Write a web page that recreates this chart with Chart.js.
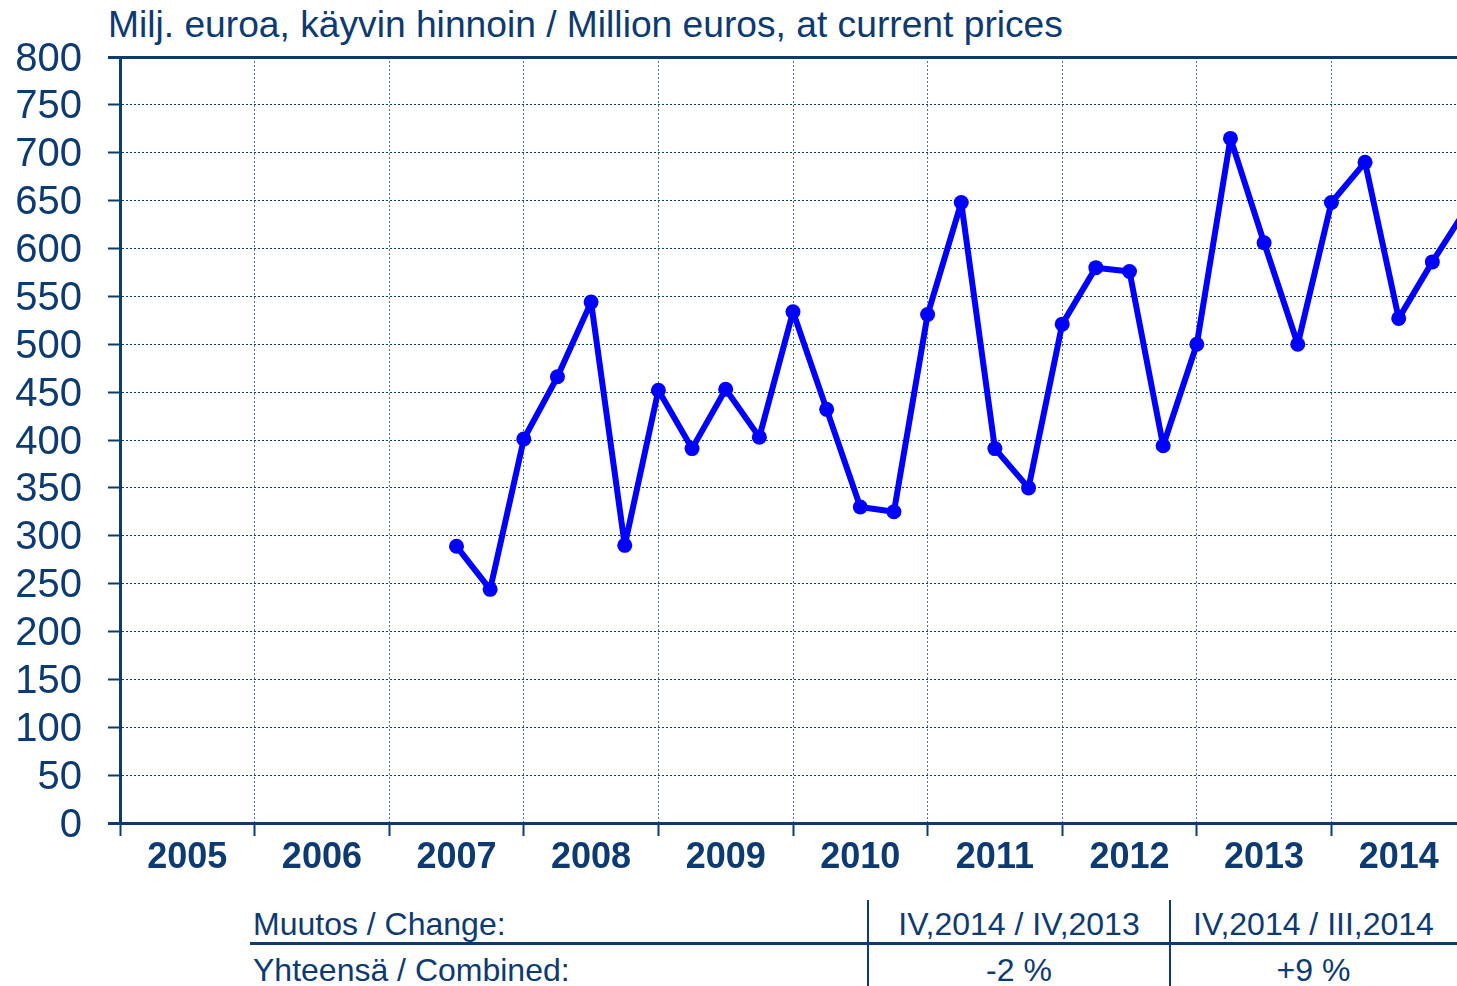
<!DOCTYPE html>
<html>
<head>
<meta charset="utf-8">
<script src="https://cdn.jsdelivr.net/npm/chart.js@4/dist/chart.umd.min.js"></script>
<style>
  html, body { margin: 0; padding: 0; background: #fff; overflow: hidden; }
  body { width: 1457px; height: 986px; position: relative; font-family: Arial, "Liberation Sans", sans-serif; color: #0d3a70; }
  #wrap { position: absolute; left: 0; top: 0; width: 1480px; height: 880px; }
  .t { position: absolute; white-space: nowrap; }
  .title { left: 108px; top: 4px; font-size: 37.2px; line-height: 40px; }
  .cell { font-size: 32px; line-height: 40px; height: 40px; }
  .c { text-align: center; }
  .hl { position: absolute; background: #0d3a70; }
</style>
</head>
<body>
<div class="t title">Milj. euroa, käyvin hinnoin / Million euros, at current prices</div>
<div id="wrap"><canvas id="chart"></canvas></div>

<div class="t cell" style="left:253px; top:904px;">Muutos / Change:</div>
<div class="t cell c" style="left:868px; width:302px; top:904px;">IV,2014 / IV,2013</div>
<div class="t cell c" style="left:1170px; width:287px; top:904px;">IV,2014 / III,2014</div>
<div class="t cell" style="left:253px; top:950px;">Yhteensä / Combined:</div>
<div class="t cell c" style="left:868px; width:302px; top:950px;">-2 %</div>
<div class="t cell c" style="left:1170px; width:287px; top:950px;">+9 %</div>
<div class="hl" style="left:250px; top:942px; width:1230px; height:3px;"></div>
<div class="hl" style="left:867px; top:900px; width:2px; height:86px;"></div>
<div class="hl" style="left:1169px; top:900px; width:2px; height:86px;"></div>

<script>
// year labels along the x axis (4 quarters each)
const years = ['2005', '2006', '2007', '2008', '2009', '2010', '2011', '2012', '2013', '2014'];
const quartersPerYear = 4;
// quarter-end index of the first value (2007 Q2)
const firstQuarter = 10;
// quarterly values, million euros
const values = [289, 244, 401, 466, 544, 290, 452, 391, 453, 403,
                534, 432, 330, 325, 531, 648, 391, 350, 521, 580,
                576, 394, 500, 715, 606, 500, 648, 690, 527, 586, 641];
const yMin = 0;
const yMax = 800;
const yStep = 50;

const navy = '#0d3a70';
const points = values.map((v, i) => ({ x: firstQuarter + i, y: v }));
const isEdge = ctx => ctx.tick && (ctx.tick.value === yMin || ctx.tick.value === yMax);

const ctx = document.getElementById('chart').getContext('2d');
new Chart(ctx, {
  type: 'line',
  data: {
    labels: years,
    datasets: [{
      data: points,
      xAxisID: 'q',
      borderColor: '#0000ff',
      backgroundColor: '#0000ff',
      borderWidth: 6,
      borderJoinStyle: 'round',
      borderCapStyle: 'round',
      pointRadius: 7.5,
      pointBorderWidth: 0,
      pointBackgroundColor: '#0000ff',
      tension: 0,
      fill: false
    }]
  },
  options: {
    responsive: true,
    maintainAspectRatio: false,
    animation: false,
    layout: { padding: { top: 57, right: 14, left: 0, bottom: 0 } },
    plugins: { legend: { display: false }, tooltip: { enabled: false } },
    scales: {
      x: {
        type: 'category',
        offset: true,
        grid: {
          offset: true,
          color: '#557399',
          lineWidth: 1,
          tickLength: 13,
          tickColor: navy,
          tickWidth: 2,
          tickBorderDash: []
        },
        border: { display: true, color: navy, width: 3, dash: [2, 2] },
        ticks: {
          color: navy,
          padding: 0,
          maxRotation: 0,
          autoSkip: false,
          font: { family: 'Arial, "Liberation Sans", sans-serif', size: 36, weight: 'bold', lineHeight: 1.2 }
        },
        afterFit: s => { s.height = 57; }
      },
      q: {
        type: 'linear',
        display: false,
        min: 0,
        max: years.length * quartersPerYear
      },
      y: {
        min: yMin,
        max: yMax,
        ticks: {
          stepSize: yStep,
          autoSkip: false,
          labelOffset: 2.5,
          color: navy,
          padding: 26,
          font: { family: 'Arial, "Liberation Sans", sans-serif', size: 40, lineHeight: 1 }
        },
        grid: {
          color: navy,
          lineWidth: c => isEdge(c) ? 3 : 1,
          tickLength: 12,
          tickColor: navy,
          tickWidth: c => isEdge(c) ? 3 : 2,
          tickBorderDash: []
        },
        border: { display: true, color: navy, width: 3, dash: c => isEdge(c) ? [] : [2, 2] },
        afterFit: s => { s.width = 120; }
      }
    }
  }
});
</script>
</body>
</html>
